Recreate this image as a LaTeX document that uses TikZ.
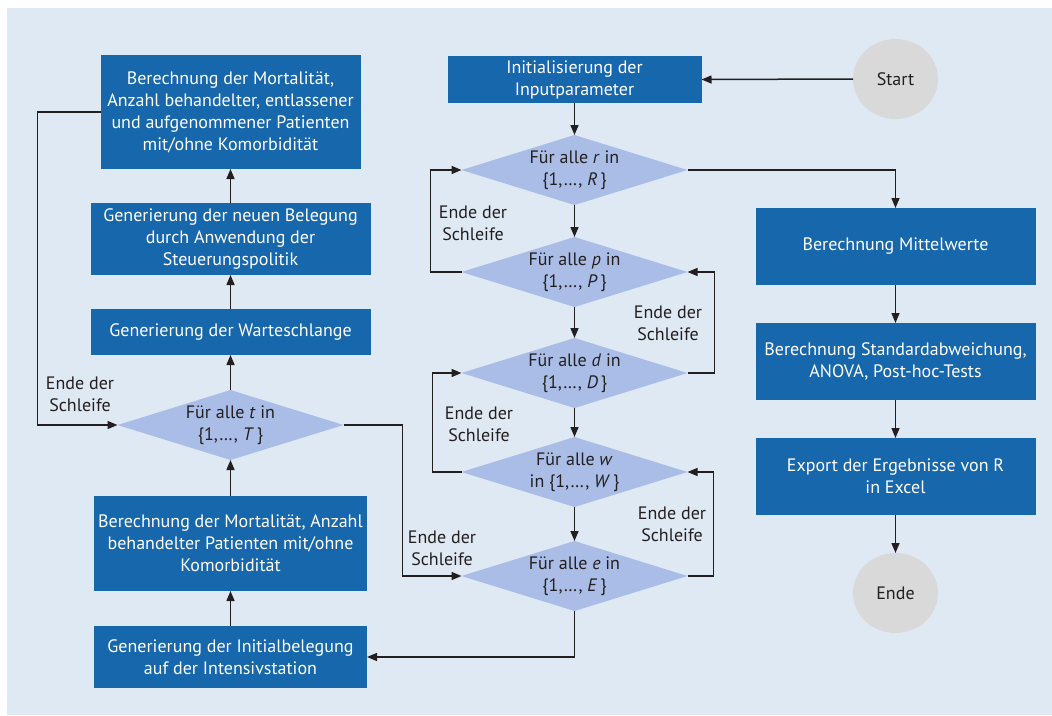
\documentclass[tikz,border=0pt]{standalone}
\usepackage{fontspec}
\setmainfont{PT Sans}
\usetikzlibrary{shapes.geometric,arrows.meta}
\definecolor{boxblue}{RGB}{23,103,172}
\definecolor{diablue}{RGB}{170,189,230}
\definecolor{bgblue}{RGB}{223,233,244}
\definecolor{circgray}{RGB}{217,217,217}
\definecolor{linegray}{RGB}{35,31,32}
\begin{document}
\begin{tikzpicture}[x=1pt,y=-1pt,
  font=\fontsize{18}{22}\selectfont,
  box/.style={rectangle, fill=boxblue, text=white, align=center, inner sep=0pt, outer sep=0pt},
  forall/.style={diamond, aspect=3.2, fill=diablue, text=linegray, align=center, inner sep=-10pt, outer sep=0pt, minimum width=226pt, minimum height=70pt},
  terminal/.style={ellipse, fill=circgray, text=linegray, minimum width=85pt, minimum height=80pt, inner sep=0pt, outer sep=0pt},
  note/.style={align=center, text=linegray, inner sep=0pt},
  arr/.style={draw=linegray, line width=1.5pt, -{Triangle[length=10pt,width=8pt]}}]
\fill[bgblue] (7,8) rectangle (1052,715);
\useasboundingbox (0,0) rectangle (1052,715);

\node[box, minimum width=260pt, minimum height=114pt] (mort1) at (230.5,112) {Berechnung der Mortalität,\\Anzahl behandelter, entlassener\\und aufgenommener Patienten\\mit/ohne Komorbidität};
\node[box, minimum width=280pt, minimum height=72pt] (policy) at (230.5,239) {Generierung der neuen Belegung\\durch Anwendung der\\Steuerungspolitik};
\node[box, minimum width=280pt, minimum height=46pt] (queue) at (230.5,332) {Generierung der Warteschlange};
\node[forall] (loopt) at (230.5,425) {Für alle \textit{t} in\\\{1,\dots, \textit{T}\,\}};
\node[box, minimum width=273pt, minimum height=95pt] (mort0) at (230.5,543.5) {Berechnung der Mortalität, Anzahl\\behandelter Patienten mit/ohne\\Komorbidität};
\node[box, minimum width=273pt, minimum height=62pt] (initocc) at (230.5,657) {Generierung der Initialbelegung\\auf der Intensivstation};

\node[box, minimum width=254pt, minimum height=47pt] (input) at (574.5,79.5) {Initialisierung der\\Inputparameter};
\node[terminal] (start) at (895.5,79) {Start};
\node[forall] (loopr) at (574.5,170) {Für alle \textit{r} in\\\{1,\dots, \textit{R}\,\}};
\node[forall] (loopp) at (574.5,272) {Für alle \textit{p} in\\\{1,\dots, \textit{P}\,\}};
\node[forall] (loopd) at (574.5,373) {Für alle \textit{d} in\\\{1,\dots, \textit{D}\,\}};
\node[forall] (loopw) at (574.5,472) {Für alle \textit{w}\\in \{1,\dots, \textit{W}\,\}};
\node[forall] (loope) at (574.5,576) {Für alle \textit{e} in\\\{1,\dots, \textit{E}\,\}};

\node[box, minimum width=280pt, minimum height=77pt] (mean) at (895.5,246.5) {Berechnung Mittelwerte};
\node[box, minimum width=280pt, minimum height=77pt] (sd) at (895.5,361.5) {Berechnung Standardabweichung,\\ANOVA, Post-hoc-Tests};
\node[box, minimum width=280pt, minimum height=77pt] (export) at (895.5,476.5) {Export der Ergebnisse von R\\in Excel};
\node[terminal] (stop) at (895.5,593) {Ende};

\node[note] (endt) at (80,394) {Ende der\\Schleife};
\node[note] (endp) at (473,223) {Ende der\\Schleife};
\node[note] (endd) at (668,323) {Ende der\\Schleife};
\node[note] (endw) at (479,424) {Ende der\\Schleife};
\node[note] (ende) at (672,524) {Ende der\\Schleife};
\node[note] (endtt) at (442,548) {Ende der\\Schleife};

\draw[arr] (start.west) -- (input.east);
\draw[arr] (input) -- (loopr);
\draw[arr] (loopr) -- (loopp);
\draw[arr] (loopp) -- (loopd);
\draw[arr] (loopd) -- (loopw);
\draw[arr] (loopw) -- (loope);
\draw[arr] (loopr.east) -| (mean.north);
\draw[arr] (mean) -- (sd);
\draw[arr] (sd) -- (export);
\draw[arr] (export) -- (stop);
\draw[arr] (loopp.west) -- ++(-31,0) |- (loopr.west);
\draw[arr] (loopd.east) -- ++(27,0) |- (loopp.east);
\draw[arr] (loopw.west) -- ++(-29,0) |- (loopd.west);
\draw[arr] (loope.east) -- ++(26,0) |- (loopw.east);
\draw[arr] (loopt.east) -- ++(59,0) |- (loope.west);
\draw[arr] (loope.south) |- (initocc.east);
\draw[arr] (initocc) -- (mort0);
\draw[arr] (mort0) -- (loopt);
\draw[arr] (loopt) -- (queue);
\draw[arr] (queue) -- (policy);
\draw[arr] (policy) -- (mort1);
\draw[arr] (mort1.west) -- ++(-63,0) |- (loopt.west);

\end{tikzpicture}
\end{document}
